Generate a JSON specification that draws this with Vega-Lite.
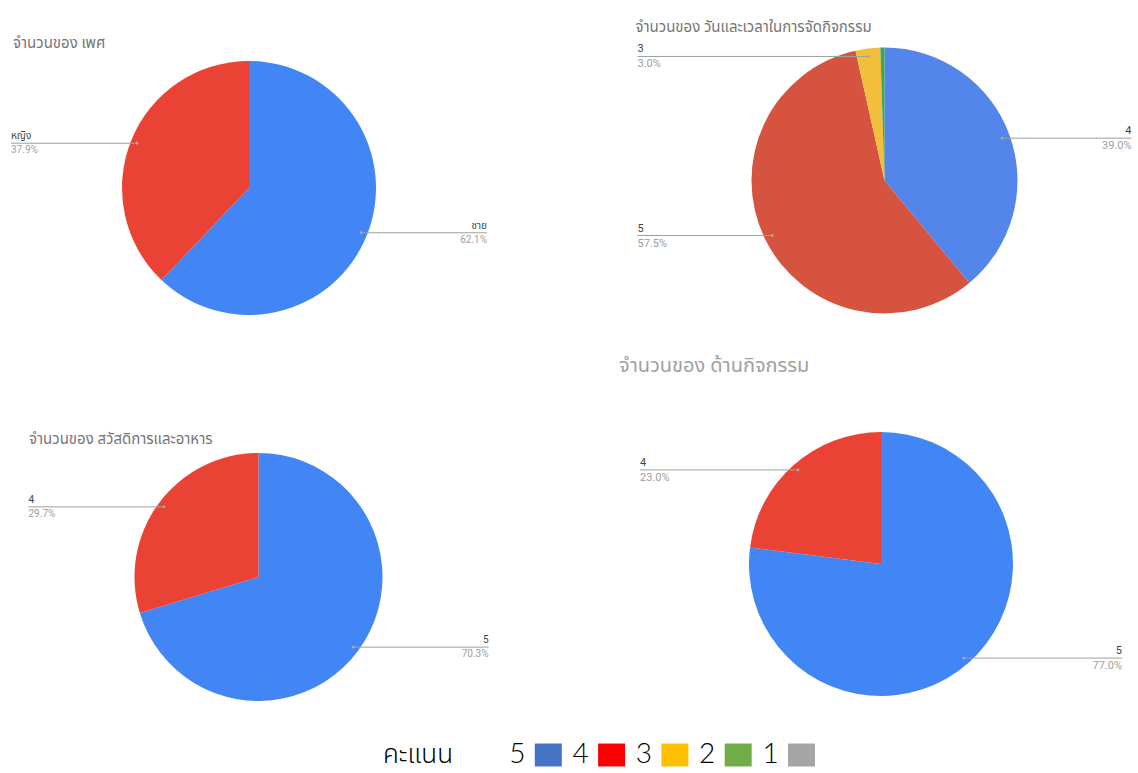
{
  "$schema": "https://vega.github.io/schema/vega-lite/v6.json",
  "padding": {"left": 10, "top": 19, "right": 0, "bottom": 0},
  "config": {"view": {"stroke": null}},
  "datasets": {
    "gender": [
      {"name": "ชาย", "pct": 62.1, "slot": 1},
      {"name": "หญิง", "pct": 37.9, "slot": 2}
    ],
    "time": [
      {"name": "4", "pct": 39.0, "slot": 1},
      {"name": "5", "pct": 57.5, "slot": 2},
      {"name": "3", "pct": 3.0, "slot": 3},
      {"name": "2", "pct": 0.5, "slot": 4}
    ],
    "welfare": [
      {"name": "5", "pct": 70.3, "slot": 1},
      {"name": "4", "pct": 29.7, "slot": 2}
    ],
    "activity": [
      {"name": "5", "pct": 77.0, "slot": 1},
      {"name": "4", "pct": 23.0, "slot": 2}
    ],
    "legend": [
      {"label": "คะแนน", "kind": "header"},
      {"label": "5", "kind": "score"},
      {"label": "4", "kind": "score"},
      {"label": "3", "kind": "score"},
      {"label": "2", "kind": "score"},
      {"label": "1", "kind": "score"}
    ]
  },
  "bounds": "full",
  "spacing": 35,
  "resolve": {"scale": {"color": "independent", "x": "independent", "y": "independent", "theta": "independent"}},
  "vconcat": [
    {
      "hconcat": [
        {
          "width": 476, "height": 266,
          "title": {"text": "จำนวนของ เพศ", "anchor": "start", "frame": "group", "fontSize": 15, "fontWeight": "normal", "color": "#757575", "offset": 4.5, "dx": 2, "font": "Roboto, 'Noto Sans Thai', sans-serif"},
          "data": {"name": "gender"},
          "transform": [
            {"window": [{"op": "sum", "field": "pct", "as": "cum"}], "sort": [{"field": "slot"}], "frame": [null, 0]},
            {"calculate": "(datum.cum - datum.pct / 2) / 100 * 2 * PI", "as": "mid"},
            {"calculate": "sin(datum.mid) * 127 * 0.95", "as": "ax"},
            {"calculate": "cos(datum.mid) * 127 * 0.95", "as": "ay"},
            {"calculate": "datum.ax < 0 ? -238 : 238", "as": "ex"},
            {"calculate": "format(datum.pct, '.1f') + '%'", "as": "plabel"}
          ],
          "layer": [
            {"mark": {"type": "arc", "outerRadius": 127},
             "encoding": {"theta": {"field": "pct", "type": "quantitative"},
                          "order": {"field": "slot", "type": "quantitative"},
                          "color": {"field": "slot", "type": "nominal", "scale": {"domain": [1, 2], "range": ["#4285F4", "#EA4335"]}, "legend": null}}},
            {"mark": {"type": "rule", "color": "#9e9e9e", "strokeWidth": 1},
             "encoding": {"x": {"field": "ax", "type": "quantitative", "scale": {"domain": [-238, 238], "nice": false, "zero": false}, "axis": null},
                          "x2": {"field": "ex"},
                          "y": {"field": "ay", "type": "quantitative", "scale": {"domain": [-133, 133], "nice": false, "zero": false}, "axis": null}}},
            {"mark": {"type": "circle", "size": 8, "color": "#aaaaaa", "opacity": 1},
             "encoding": {"x": {"field": "ax", "type": "quantitative"}, "y": {"field": "ay", "type": "quantitative"}}},
            {"transform": [{"filter": "datum.ax < 0"}],
             "mark": {"type": "text", "align": "left", "baseline": "bottom", "dy": -2, "fontSize": 10, "color": "#444444", "font": "Roboto, 'Noto Sans Thai', sans-serif"},
             "encoding": {"x": {"field": "ex", "type": "quantitative"}, "y": {"field": "ay", "type": "quantitative"}, "text": {"field": "name"}}},
            {"transform": [{"filter": "datum.ax >= 0"}],
             "mark": {"type": "text", "align": "right", "baseline": "bottom", "dy": -2, "fontSize": 10, "color": "#444444", "font": "Roboto, 'Noto Sans Thai', sans-serif"},
             "encoding": {"x": {"field": "ex", "type": "quantitative"}, "y": {"field": "ay", "type": "quantitative"}, "text": {"field": "name"}}},
            {"transform": [{"filter": "datum.ax < 0"}],
             "mark": {"type": "text", "align": "left", "baseline": "top", "dy": 2, "fontSize": 10, "color": "#9e9e9e", "font": "Roboto, sans-serif"},
             "encoding": {"x": {"field": "ex", "type": "quantitative"}, "y": {"field": "ay", "type": "quantitative"}, "text": {"field": "plabel"}}},
            {"transform": [{"filter": "datum.ax >= 0"}],
             "mark": {"type": "text", "align": "right", "baseline": "top", "dy": 2, "fontSize": 10, "color": "#9e9e9e", "font": "Roboto, sans-serif"},
             "encoding": {"x": {"field": "ex", "type": "quantitative"}, "y": {"field": "ay", "type": "quantitative"}, "text": {"field": "plabel"}}}
          ]
        },
        {
          "width": 494, "height": 251,
          "title": {"text": "จำนวนของ วันและเวลาในการจัดกิจกรรม", "anchor": "start", "frame": "group", "fontSize": 15, "fontWeight": "normal", "color": "#757575", "offset": 8.5, "dx": -2, "font": "Roboto, 'Noto Sans Thai', sans-serif"},
          "data": {"name": "time"},
          "transform": [
            {"window": [{"op": "sum", "field": "pct", "as": "cum"}], "sort": [{"field": "slot"}], "frame": [null, 0]},
            {"calculate": "(datum.cum - datum.pct / 2) / 100 * 2 * PI", "as": "mid"},
            {"calculate": "sin(datum.mid) * 133 * 0.94", "as": "ax"},
            {"calculate": "cos(datum.mid) * 133 * 0.94", "as": "ay"},
            {"calculate": "datum.ax < 0 ? -247 : 247", "as": "ex"},
            {"calculate": "format(datum.pct, '.1f') + '%'", "as": "plabel"}
          ],
          "layer": [
            {"mark": {"type": "arc", "outerRadius": 133},
             "encoding": {"theta": {"field": "pct", "type": "quantitative"},
                          "order": {"field": "slot", "type": "quantitative"},
                          "color": {"field": "slot", "type": "nominal", "scale": {"domain": [1, 2, 3, 4], "range": ["#5485EA", "#D5533F", "#F2BF3A", "#3FA45B"]}, "legend": null}}},
            {"transform": [{"filter": "datum.pct >= 1"}],
             "mark": {"type": "rule", "color": "#9e9e9e", "strokeWidth": 1},
             "encoding": {"x": {"field": "ax", "type": "quantitative", "scale": {"domain": [-247, 247], "nice": false, "zero": false}, "axis": null},
                          "x2": {"field": "ex"},
                          "y": {"field": "ay", "type": "quantitative", "scale": {"domain": [-125.5, 125.5], "nice": false, "zero": false}, "axis": null}}},
            {"transform": [{"filter": "datum.pct >= 1"}],
             "mark": {"type": "circle", "size": 8, "color": "#aaaaaa", "opacity": 1},
             "encoding": {"x": {"field": "ax", "type": "quantitative"}, "y": {"field": "ay", "type": "quantitative"}}},
            {"transform": [{"filter": "datum.pct >= 1 && datum.ax < 0"}],
             "mark": {"type": "text", "align": "left", "baseline": "bottom", "dy": -2, "fontSize": 11, "color": "#444444", "font": "Roboto, sans-serif"},
             "encoding": {"x": {"field": "ex", "type": "quantitative"}, "y": {"field": "ay", "type": "quantitative"}, "text": {"field": "name"}}},
            {"transform": [{"filter": "datum.pct >= 1 && datum.ax >= 0"}],
             "mark": {"type": "text", "align": "right", "baseline": "bottom", "dy": -2, "fontSize": 11, "color": "#444444", "font": "Roboto, sans-serif"},
             "encoding": {"x": {"field": "ex", "type": "quantitative"}, "y": {"field": "ay", "type": "quantitative"}, "text": {"field": "name"}}},
            {"transform": [{"filter": "datum.pct >= 1 && datum.ax < 0"}],
             "mark": {"type": "text", "align": "left", "baseline": "top", "dy": 2, "fontSize": 11, "color": "#9e9e9e", "font": "Roboto, sans-serif"},
             "encoding": {"x": {"field": "ex", "type": "quantitative"}, "y": {"field": "ay", "type": "quantitative"}, "text": {"field": "plabel"}}},
            {"transform": [{"filter": "datum.pct >= 1 && datum.ax >= 0"}],
             "mark": {"type": "text", "align": "right", "baseline": "top", "dy": 2, "fontSize": 11, "color": "#9e9e9e", "font": "Roboto, sans-serif"},
             "encoding": {"x": {"field": "ex", "type": "quantitative"}, "y": {"field": "ay", "type": "quantitative"}, "text": {"field": "plabel"}}}
          ]
        }
      ],
      "bounds": "flush",
      "spacing": 150.5,
      "resolve": {"scale": {"color": "independent", "x": "independent", "y": "independent", "theta": "independent"}}
    },
    {
      "hconcat": [
        {
          "width": 495, "height": 256,
          "title": {"text": "จำนวนของ สวัสดิการและอาหาร", "anchor": "start", "frame": "group", "fontSize": 15, "fontWeight": "normal", "color": "#757575", "offset": 2.5, "dx": 18, "font": "Roboto, 'Noto Sans Thai', sans-serif"},
          "data": {"name": "welfare"},
          "transform": [
            {"window": [{"op": "sum", "field": "pct", "as": "cum"}], "sort": [{"field": "slot"}], "frame": [null, 0]},
            {"calculate": "(datum.cum - datum.pct / 2) / 100 * 2 * PI", "as": "mid"},
            {"calculate": "sin(datum.mid) * 124 * 0.95", "as": "ax"},
            {"calculate": "cos(datum.mid) * 124 * 0.95", "as": "ay"},
            {"calculate": "datum.ax < 0 ? -230 : 230", "as": "ex"},
            {"calculate": "format(datum.pct, '.1f') + '%'", "as": "plabel"}
          ],
          "layer": [
            {"mark": {"type": "arc", "outerRadius": 124},
             "encoding": {"theta": {"field": "pct", "type": "quantitative"},
                          "order": {"field": "slot", "type": "quantitative"},
                          "color": {"field": "slot", "type": "nominal", "scale": {"domain": [1, 2], "range": ["#4285F4", "#EA4335"]}, "legend": null}}},
            {"mark": {"type": "rule", "color": "#9e9e9e", "strokeWidth": 1},
             "encoding": {"x": {"field": "ax", "type": "quantitative", "scale": {"domain": [-247.5, 247.5], "nice": false, "zero": false}, "axis": null},
                          "x2": {"field": "ex"},
                          "y": {"field": "ay", "type": "quantitative", "scale": {"domain": [-128, 128], "nice": false, "zero": false}, "axis": null}}},
            {"mark": {"type": "circle", "size": 8, "color": "#aaaaaa", "opacity": 1},
             "encoding": {"x": {"field": "ax", "type": "quantitative"}, "y": {"field": "ay", "type": "quantitative"}}},
            {"transform": [{"filter": "datum.ax < 0"}],
             "mark": {"type": "text", "align": "left", "baseline": "bottom", "dy": -2, "fontSize": 10, "color": "#444444", "font": "Roboto, sans-serif"},
             "encoding": {"x": {"field": "ex", "type": "quantitative"}, "y": {"field": "ay", "type": "quantitative"}, "text": {"field": "name"}}},
            {"transform": [{"filter": "datum.ax >= 0"}],
             "mark": {"type": "text", "align": "right", "baseline": "bottom", "dy": -2, "fontSize": 10, "color": "#444444", "font": "Roboto, sans-serif"},
             "encoding": {"x": {"field": "ex", "type": "quantitative"}, "y": {"field": "ay", "type": "quantitative"}, "text": {"field": "name"}}},
            {"transform": [{"filter": "datum.ax < 0"}],
             "mark": {"type": "text", "align": "left", "baseline": "top", "dy": 2, "fontSize": 10, "color": "#9e9e9e", "font": "Roboto, sans-serif"},
             "encoding": {"x": {"field": "ex", "type": "quantitative"}, "y": {"field": "ay", "type": "quantitative"}, "text": {"field": "plabel"}}},
            {"transform": [{"filter": "datum.ax >= 0"}],
             "mark": {"type": "text", "align": "right", "baseline": "top", "dy": 2, "fontSize": 10, "color": "#9e9e9e", "font": "Roboto, sans-serif"},
             "encoding": {"x": {"field": "ex", "type": "quantitative"}, "y": {"field": "ay", "type": "quantitative"}, "text": {"field": "plabel"}}}
          ]
        },
        {
          "width": 482, "height": 230,
          "title": {"text": "จำนวนของ ด้านกิจกรรม", "anchor": "start", "frame": "group", "fontSize": 20, "fontWeight": "normal", "color": "#a0a0a0", "offset": 56, "dx": -21, "font": "Roboto, 'Noto Sans Thai', sans-serif"},
          "data": {"name": "activity"},
          "transform": [
            {"window": [{"op": "sum", "field": "pct", "as": "cum"}], "sort": [{"field": "slot"}], "frame": [null, 0]},
            {"calculate": "(datum.cum - datum.pct / 2) / 100 * 2 * PI", "as": "mid"},
            {"calculate": "sin(datum.mid) * 132 * 0.95", "as": "ax"},
            {"calculate": "cos(datum.mid) * 132 * 0.95", "as": "ay"},
            {"calculate": "datum.ax < 0 ? -241 : 241", "as": "ex"},
            {"calculate": "format(datum.pct, '.1f') + '%'", "as": "plabel"}
          ],
          "layer": [
            {"mark": {"type": "arc", "outerRadius": 132},
             "encoding": {"theta": {"field": "pct", "type": "quantitative"},
                          "order": {"field": "slot", "type": "quantitative"},
                          "color": {"field": "slot", "type": "nominal", "scale": {"domain": [1, 2], "range": ["#4285F4", "#EA4335"]}, "legend": null}}},
            {"mark": {"type": "rule", "color": "#9e9e9e", "strokeWidth": 1},
             "encoding": {"x": {"field": "ax", "type": "quantitative", "scale": {"domain": [-241, 241], "nice": false, "zero": false}, "axis": null},
                          "x2": {"field": "ex"},
                          "y": {"field": "ay", "type": "quantitative", "scale": {"domain": [-115, 115], "nice": false, "zero": false}, "axis": null}}},
            {"mark": {"type": "circle", "size": 8, "color": "#aaaaaa", "opacity": 1},
             "encoding": {"x": {"field": "ax", "type": "quantitative"}, "y": {"field": "ay", "type": "quantitative"}}},
            {"transform": [{"filter": "datum.ax < 0"}],
             "mark": {"type": "text", "align": "left", "baseline": "bottom", "dy": -2, "fontSize": 11, "color": "#444444", "font": "Roboto, sans-serif"},
             "encoding": {"x": {"field": "ex", "type": "quantitative"}, "y": {"field": "ay", "type": "quantitative"}, "text": {"field": "name"}}},
            {"transform": [{"filter": "datum.ax >= 0"}],
             "mark": {"type": "text", "align": "right", "baseline": "bottom", "dy": -2, "fontSize": 11, "color": "#444444", "font": "Roboto, sans-serif"},
             "encoding": {"x": {"field": "ex", "type": "quantitative"}, "y": {"field": "ay", "type": "quantitative"}, "text": {"field": "name"}}},
            {"transform": [{"filter": "datum.ax < 0"}],
             "mark": {"type": "text", "align": "left", "baseline": "top", "dy": 2, "fontSize": 11, "color": "#9e9e9e", "font": "Roboto, sans-serif"},
             "encoding": {"x": {"field": "ex", "type": "quantitative"}, "y": {"field": "ay", "type": "quantitative"}, "text": {"field": "plabel"}}},
            {"transform": [{"filter": "datum.ax >= 0"}],
             "mark": {"type": "text", "align": "right", "baseline": "top", "dy": 2, "fontSize": 11, "color": "#9e9e9e", "font": "Roboto, sans-serif"},
             "encoding": {"x": {"field": "ex", "type": "quantitative"}, "y": {"field": "ay", "type": "quantitative"}, "text": {"field": "plabel"}}}
          ]
        }
      ],
      "bounds": "flush",
      "spacing": 134,
      "resolve": {"scale": {"color": "independent", "x": "independent", "y": "independent", "theta": "independent"}}
    },
    {
      "width": 1120, "height": 30,
      "data": {"name": "legend"},
      "layer": [
        {"transform": [{"filter": "datum.kind == 'header'"}],
         "mark": {"type": "text", "align": "right", "baseline": "middle", "dx": -32, "fontSize": 26, "color": "#000000", "font": "'Noto Sans Thai', 'Noto Sans', sans-serif", "fontWeight": 300},
         "encoding": {"x": {"field": "label", "type": "nominal", "scale": {"type": "point", "domain": ["คะแนน", "5", "4", "3", "2", "1"], "range": [474, 790.5], "padding": 0}, "axis": null},
                      "text": {"field": "label"}}},
        {"transform": [{"filter": "datum.kind == 'score'"}],
         "mark": {"type": "text", "align": "center", "baseline": "middle", "dx": -31, "fontSize": 28, "color": "#000000", "font": "Lato, 'Open Sans', sans-serif", "fontWeight": 300},
         "encoding": {"x": {"field": "label", "type": "nominal"}, "text": {"field": "label"}}},
        {"transform": [{"filter": "datum.kind == 'score'"}],
         "mark": {"type": "point", "shape": "M-1,-0.85L1,-0.85L1,0.85L-1,0.85Z", "filled": true, "size": 729, "opacity": 1},
         "encoding": {"x": {"field": "label", "type": "nominal"},
                      "color": {"field": "label", "type": "nominal", "scale": {"domain": ["5", "4", "3", "2", "1"], "range": ["#4472C4", "#FF0000", "#FFC000", "#70AD47", "#A5A5A5"]}, "legend": null}}}
      ]
    }
  ]
}
